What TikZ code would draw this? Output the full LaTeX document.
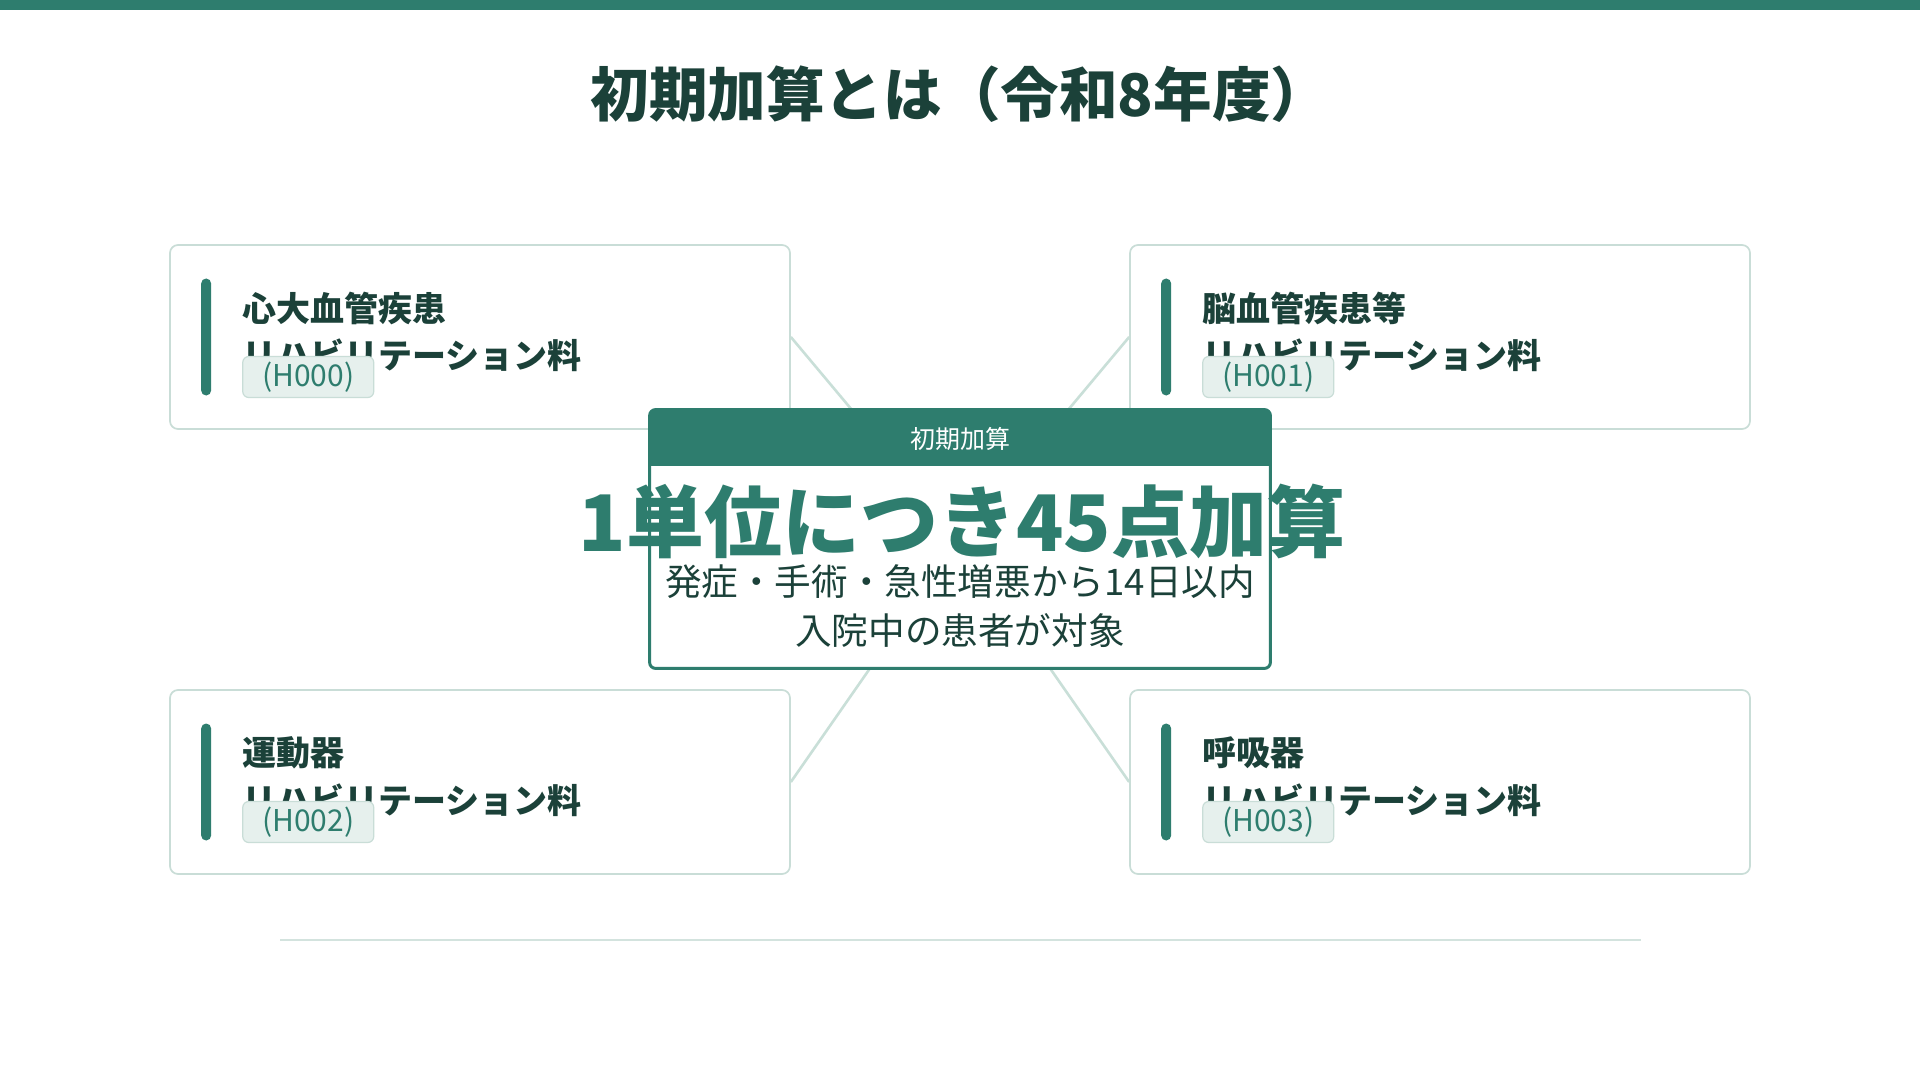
\documentclass[tikz,border=0pt]{standalone}
\usepackage{fontspec}
\setmainfont{Noto Sans CJK JP}
\usetikzlibrary{positioning}
\definecolor{tealmain}{HTML}{2E7D6E}
\definecolor{darkgreen}{HTML}{1B4139}
\definecolor{linegreen}{HTML}{C9DFD8}
\definecolor{cardedge}{HTML}{C9DDD7}
\definecolor{badgefill}{HTML}{E6F0ED}
\definecolor{rulegreen}{HTML}{D3E3DE}
\begin{document}
\begin{tikzpicture}[x = 0.5pt, y = -0.5pt,
		cardbox/.style = {draw = cardedge, line width = 0.85pt, fill = white, rounded corners = 4pt, minimum width = 310pt, minimum height = 92pt, inner sep = 0pt},
		cardbar/.style = {fill = tealmain, rounded corners = 2.5pt, minimum width = 5pt, minimum height = 58.5pt, inner sep = 0pt},
		cardtitle/.style = {anchor = west, inner sep = 0pt, text = darkgreen, font = \bfseries\fontsize{17pt}{20pt}\selectfont},
		codebadge/.style = {anchor = west, draw = cardedge, fill = badgefill, line width = 0.6pt, rounded corners = 3pt, minimum width = 65.5pt, minimum height = 20.5pt, inner sep = 0pt, text = tealmain, font = \fontsize{15pt}{17pt}\selectfont},
		spoke/.style = {draw = linegreen, line width = 1.3pt},
		corebox/.style = {fill = white, minimum width = 310pt, minimum height = 129pt, inner sep = 0pt},
		corelabel/.style = {inner sep = 0pt, text = white, font = \fontsize{12.5pt}{14pt}\selectfont},
		bignum/.style = {inner sep = 0pt, text = tealmain, font = \bfseries\fontsize{39pt}{43pt}\selectfont},
		corenote/.style = {inner sep = 0pt, text = darkgreen, font = \fontsize{18.3pt}{21pt}\selectfont}]
	\fill[white] (0, 0) rectangle (1920, 1080);
	\useasboundingbox (0, 0) rectangle (1920, 1080);
	\fill[tealmain] (0, 0) rectangle (1920, 10);
	\node at (960, 94) [inner sep = 0pt, text = darkgreen, font = \bfseries\fontsize{29.3pt}{32pt}\selectfont] (title) {初期加算とは（令和8年度）};
	% four cards
	\node at (480, 337) [cardbox] (heart) {};
		\node at ([xshift = 18.5pt]heart.west) [cardbar] (heartbar) {};
		\node at ([xshift = 36.5pt, yshift = 14.5pt]heart.west) [cardtitle] (heartname) {心大血管疾患};
		\node at ([xshift = 36.5pt, yshift = -9pt]heart.west) [cardtitle] (heartfee) {リハビリテーション料};
		\node at ([xshift = 36.5pt, yshift = -20pt]heart.west) [codebadge] (heartcode) {(H000)};
	\node at (1440, 337) [cardbox] (brain) {};
		\node at ([xshift = 18.5pt]brain.west) [cardbar] (brainbar) {};
		\node at ([xshift = 36.5pt, yshift = 14.5pt]brain.west) [cardtitle] (brainname) {脳血管疾患等};
		\node at ([xshift = 36.5pt, yshift = -9pt]brain.west) [cardtitle] (brainfee) {リハビリテーション料};
		\node at ([xshift = 36.5pt, yshift = -20pt]brain.west) [codebadge] (braincode) {(H001)};
	\node at (480, 782) [cardbox] (motor) {};
		\node at ([xshift = 18.5pt]motor.west) [cardbar] (motorbar) {};
		\node at ([xshift = 36.5pt, yshift = 14.5pt]motor.west) [cardtitle] (motorname) {運動器};
		\node at ([xshift = 36.5pt, yshift = -9pt]motor.west) [cardtitle] (motorfee) {リハビリテーション料};
		\node at ([xshift = 36.5pt, yshift = -20pt]motor.west) [codebadge] (motorcode) {(H002)};
	\node at (1440, 782) [cardbox] (resp) {};
		\node at ([xshift = 18.5pt]resp.west) [cardbar] (respbar) {};
		\node at ([xshift = 36.5pt, yshift = 14.5pt]resp.west) [cardtitle] (respname) {呼吸器};
		\node at ([xshift = 36.5pt, yshift = -9pt]resp.west) [cardtitle] (respfee) {リハビリテーション料};
		\node at ([xshift = 36.5pt, yshift = -20pt]resp.west) [codebadge] (respcode) {(H003)};
	% spokes to the centre
	\coordinate (hub) at (960, 539);
		\draw[spoke] (heart.east) -- (hub);
		\draw[spoke] (brain.west) -- (hub);
		\draw[spoke] (motor.east) -- (hub);
		\draw[spoke] (resp.west) -- (hub);
	\node at (hub) [corebox] (core) {};
		\fill[tealmain, rounded corners = 3pt] (core.north west) rectangle ([yshift = -28pt]core.north east);
		\fill[tealmain] ([yshift = -14pt]core.north west) rectangle ([yshift = -28pt]core.north east);
		\draw[tealmain, line width = 1.5pt, rounded corners = 3pt] (core.north west) rectangle (core.south east);
	\node at ([yshift = -14.5pt]core.north) [corelabel] (corehead) {初期加算};
	\node at (962, 521) [bignum] (coremain) {1単位につき45点加算};
	\node at (960, 582) [corenote] (corenote1) {発症・手術・急性増悪から14日以内};
	\node at (960, 631) [corenote] (corenote2) {入院中の患者が対象};
	% bottom rule
	\coordinate (rulel) at (280, 940);
	\coordinate (ruler) at (1641, 940);
		\draw[rulegreen, line width = 1pt] (rulel) -- (ruler);
\end{tikzpicture}
\end{document}
